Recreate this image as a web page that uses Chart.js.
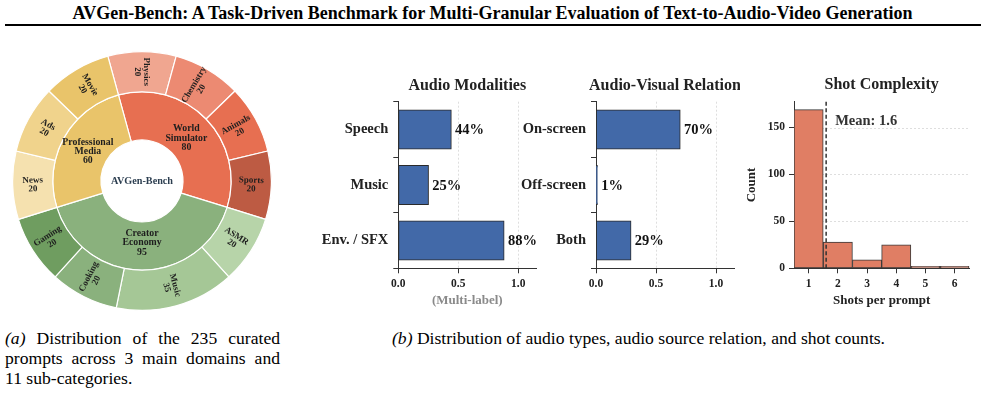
<!DOCTYPE html>
<html><head><meta charset="utf-8">
<script src="https://cdn.jsdelivr.net/npm/chart.js@4"></script>
<style>
html,body{margin:0;padding:0;background:#fff;}
body{width:985px;height:405px;position:relative;overflow:hidden;font-family:"Liberation Serif","Times New Roman",serif;color:#000;}
canvas{position:absolute;}
#title{position:absolute;left:0;top:4px;width:985px;text-align:center;white-space:nowrap;}
#titleText{display:inline-block;font-weight:bold;font-size:16.5px;line-height:18px;}
#rule{position:absolute;left:5px;top:24px;width:976px;height:2px;background:#000;}
.cap{position:absolute;font-size:17.6px;line-height:20px;white-space:nowrap;}
.j{text-align:justify;text-align-last:justify;}
</style></head><body>
<div id="title"><span id="titleText">AVGen-Bench: A Task-Driven Benchmark for Multi-Granular Evaluation of Text-to-Audio-Video Generation</span></div>
<div id="rule"></div>
<canvas id="c1" width="260" height="260" style="left:12px;top:51px"></canvas>
<canvas id="c2" width="230" height="250" style="left:310px;top:60px"></canvas>
<canvas id="c3" width="230" height="250" style="left:510px;top:60px"></canvas>
<canvas id="c4" width="245" height="250" style="left:740px;top:60px"></canvas>
<div class="cap" style="left:5px;top:328px;width:275px;white-space:normal">
  <div class="j"><i>(a)</i> Distribution of the 235 curated</div>
  <div class="j">prompts across 3 main domains and</div>
  <div>11 sub-categories.</div>
</div>
<div class="cap" style="left:392px;top:328px"><span id="capB"><i>(b)</i> Distribution of audio types, audio source relation, and shot counts.</span></div>
<script>
// ---------- DATA ----------
const centerLabel = 'AVGen-Bench';
const domainLabels = ['World Simulator', 'Creator Economy', 'Professional Media'];
const domainCounts = [80, 95, 60];
const subLabels = ['Physics', 'Chemistry', 'Animals', 'Sports', 'ASMR', 'Music', 'Cooking', 'Gaming', 'News', 'Ads', 'Movie'];
const subCounts = [20, 20, 20, 20, 20, 35, 20, 20, 20, 20, 20];

const modalityLabels = ['Speech', 'Music', 'Env. / SFX'];
const modalityShares = [0.44, 0.25, 0.88];
const relationLabels = ['On-screen', 'Off-screen', 'Both'];
const relationShares = [0.70, 0.01, 0.29];
const shareTicks = [0, 0.5, 1.0];
const shareTickLabels = ['0.0', '0.5', '1.0'];

const shotValues = [1, 2, 3, 4, 5, 6];
const shotFrequency = [169, 28, 9, 25, 2, 2];
const shotMean = 1.6;
const countTicks = [0, 50, 100, 150];

// ---------- STYLE ----------
const SERIF = '"Liberation Serif", "Times New Roman", serif';
Chart.defaults.font.family = SERIF;
Chart.defaults.color = '#222';
const domainColors = ['#E76F51', '#8AB17D', '#E9C46A'];
const subColors = ['#F0A690', '#EC8A72', '#E76F51', '#BD5B43',
                   '#B7D4A9', '#A5C796', '#8AB17D', '#6F9D60',
                   '#F5E1AF', '#F0D38C', '#E9C46A'];

// fit title / caption widths
(function(){
  const tt = document.getElementById('titleText');
  const w = tt.getBoundingClientRect().width;
  tt.style.fontSize = (16.5 * 840 / w) + 'px';
})();

// ---------- SUNBURST ----------
const sunLabels = {
  id: 'sunLabels',
  afterDatasetsDraw(chart) {
    const ctx = chart.ctx;
    ctx.save();
    ctx.textAlign = 'center'; ctx.textBaseline = 'middle';
    chart.getDatasetMeta(0).data.forEach((arc, i) => {
      const p = arc.getProps(['x', 'y', 'startAngle', 'endAngle', 'innerRadius', 'outerRadius'], true);
      const mid = (p.startAngle + p.endAngle) / 2;
      const r = (p.innerRadius + p.outerRadius) / 2;
      let rot = Math.atan2(Math.sin(mid), Math.cos(mid));
      if (Math.abs(rot) > Math.PI / 2 + 1e-6) rot += Math.PI;
      ctx.save();
      ctx.translate(p.x + r * Math.cos(mid), p.y + r * Math.sin(mid));
      ctx.rotate(rot);
      ctx.fillStyle = '#1e1e1e';
      ctx.font = 'bold 9px ' + SERIF;
      ctx.fillText(subLabels[i], 0, -4.3);
      ctx.fillText(String(subCounts[i]), 0, 4.3);
      ctx.restore();
    });
    chart.getDatasetMeta(1).data.forEach((arc, i) => {
      const p = arc.getProps(['x', 'y', 'startAngle', 'endAngle', 'innerRadius', 'outerRadius'], true);
      const mid = (p.startAngle + p.endAngle) / 2;
      const r = p.innerRadius + (p.outerRadius - p.innerRadius) * 0.43;
      const lines = domainLabels[i].split(' ').concat([String(domainCounts[i])]);
      const cx = p.x + r * Math.cos(mid), cy = p.y + r * Math.sin(mid);
      ctx.fillStyle = '#1e1e1e';
      ctx.font = 'bold 9.8px ' + SERIF;
      const lh = 9.3;
      lines.forEach((ln, k) => ctx.fillText(ln, cx, cy + (k - (lines.length - 1) / 2) * lh));
    });
    const m = chart.getDatasetMeta(1).data[0];
    ctx.fillStyle = '#2C3E50';
    ctx.font = 'bold 10.2px ' + SERIF;
    ctx.fillText(centerLabel, m.x, m.y);
    ctx.restore();
  }
};

new Chart(document.getElementById('c1'), {
  type: 'doughnut',
  data: {
    labels: subLabels,
    datasets: [
      { data: subCounts, backgroundColor: subColors, borderColor: '#fff', borderWidth: 1.2, weight: 40 },
      { data: domainCounts, backgroundColor: domainColors, borderColor: '#fff', borderWidth: 1.2, weight: 48 }
    ]
  },
  options: {
    responsive: false, animation: false,
    cutout: 41,
    rotation: -15.32,
    layout: { padding: 0 },
    plugins: { legend: { display: false }, tooltip: { enabled: false } }
  },
  plugins: [sunLabels]
});

// ---------- COMMON PLUGINS ----------
const panelTitle = {
  id: 'panelTitle',
  afterDraw(chart, args, opts) {
    const { ctx, chartArea: a } = chart;
    ctx.save();
    ctx.font = 'bold 16px ' + SERIF;
    ctx.fillStyle = '#222';
    ctx.textAlign = 'center'; ctx.textBaseline = 'middle';
    ctx.fillText(opts.text, (a.left + a.right) / 2, a.top - opts.offset);
    ctx.restore();
  }
};
const dottedGrid = {
  id: 'dottedGrid',
  beforeDatasetsDraw(chart, args, opts) {
    const s = chart.scales[opts.axis], a = chart.chartArea, ctx = chart.ctx;
    ctx.save();
    ctx.strokeStyle = '#d6d6d6'; ctx.lineWidth = 0.8; ctx.setLineDash([2, 2]);
    s.ticks.forEach(t => {
      if (t.value === 0) return;
      const p = Math.round(s.getPixelForValue(t.value)) + 0.5;
      ctx.beginPath();
      if (opts.axis === 'x') { ctx.moveTo(p, a.top); ctx.lineTo(p, a.bottom); }
      else { ctx.moveTo(a.left, p); ctx.lineTo(a.right, p); }
      ctx.stroke();
    });
    ctx.restore();
  }
};
const barValues = {
  id: 'barValues',
  afterDatasetsDraw(chart) {
    const ctx = chart.ctx, meta = chart.getDatasetMeta(0), vals = chart.data.datasets[0].data;
    ctx.save();
    ctx.font = 'bold 14.5px ' + SERIF;
    ctx.fillStyle = '#111';
    ctx.textAlign = 'left'; ctx.textBaseline = 'middle';
    meta.data.forEach((bar, i) => ctx.fillText(Math.round(vals[i] * 100) + '%', bar.x + 4, bar.y + 1));
    ctx.restore();
  }
};

function shareChart(id, labels, values, titleText, axisTitle, yWidth, padRight) {
  return new Chart(document.getElementById(id), {
    type: 'bar',
    data: { labels: labels, datasets: [{ data: values, backgroundColor: '#4269A8', borderColor: '#2a2a2a', borderWidth: 1, borderSkipped: false, inflateAmount: 0.6, barPercentage: 0.7, categoryPercentage: 1 }] },
    options: {
      indexAxis: 'y', responsive: false, animation: false,
      layout: { padding: { top: 41.7, right: padRight, left: 0, bottom: 0 } },
      plugins: { legend: { display: false }, tooltip: { enabled: false },
                 panelTitle: { text: titleText, offset: 15.7 }, dottedGrid: { axis: 'x' } },
      scales: {
        x: {
          type: 'linear', min: 0, max: 1.15,
          afterBuildTicks: s => { s.ticks = shareTicks.map(v => ({ value: v })); },
          ticks: { callback: v => shareTickLabels[shareTicks.indexOf(v)], font: { size: 11.5, weight: 'bold' }, color: '#222', padding: 4, maxRotation: 0 },
          grid: { drawOnChartArea: false, drawTicks: true, tickLength: 5, tickColor: '#333', tickWidth: 1 },
          border: { color: '#333', width: 1 },
          title: { display: !!axisTitle, text: axisTitle || '', color: '#8a8a8a', font: { size: 13, weight: 'bold' }, padding: { top: 0, bottom: 2 } },
          afterFit: s => { s.height = 41.7; }
        },
        y: {
          ticks: { font: { size: 14.5, weight: 'bold' }, color: '#222', padding: 5 },
          grid: { drawOnChartArea: false, drawTicks: true, tickLength: 5, tickColor: '#333', tickWidth: 1 },
          border: { color: '#333', width: 1 },
          afterFit: s => { s.width = yWidth; }
        }
      }
    },
    plugins: [panelTitle, dottedGrid, barValues]
  });
}
shareChart('c2', modalityLabels, modalityShares, 'Audio Modalities', '(Multi-label)', 88.3, 3.7);
shareChart('c3', relationLabels, relationShares, 'Audio-Visual Relation', null, 86, 6);

// ---------- HISTOGRAM ----------
const meanLine = {
  id: 'meanLine',
  afterDatasetsDraw(chart) {
    const { ctx, chartArea: a } = chart;
    const x = chart.scales.x.getPixelForValue(shotMean);
    ctx.save();
    ctx.strokeStyle = '#333'; ctx.lineWidth = 1.5; ctx.setLineDash([4, 2.5]);
    ctx.beginPath(); ctx.moveTo(x, a.top); ctx.lineTo(x, a.bottom); ctx.stroke();
    ctx.setLineDash([]);
    ctx.font = 'bold 14.5px ' + SERIF;
    ctx.fillStyle = '#333';
    ctx.textAlign = 'left'; ctx.textBaseline = 'middle';
    ctx.fillText('Mean: ' + shotMean.toFixed(1), x + 9, a.top + 20);
    ctx.restore();
  }
};
new Chart(document.getElementById('c4'), {
  type: 'bar',
  data: { datasets: [{ data: shotValues.map((v, i) => ({ x: v, y: shotFrequency[i] })),
    backgroundColor: 'rgb(224,126,100)', borderColor: '#3a3a3a', borderWidth: 1, borderSkipped: false,
    barPercentage: 1, categoryPercentage: 1 }] },
  options: {
    responsive: false, animation: false,
    layout: { padding: { top: 41.7, right: 15.7, left: 0, bottom: 0 } },
    plugins: { legend: { display: false }, tooltip: { enabled: false },
               panelTitle: { text: 'Shot Complexity', offset: 16.5 }, dottedGrid: { axis: 'y' } },
    scales: {
      x: {
        type: 'linear', min: 0.5, max: 6.5, offset: false,
        afterBuildTicks: s => { s.ticks = shotValues.map(v => ({ value: v })); },
        ticks: { font: { size: 11.5, weight: 'bold' }, color: '#222', padding: 4, maxRotation: 0 },
        grid: { offset: false, drawOnChartArea: false, drawTicks: true, tickLength: 5, tickColor: '#333', tickWidth: 1 },
        border: { color: '#333', width: 1 },
        title: { display: true, text: 'Shots per prompt', color: '#222', font: { size: 13, weight: 'bold' }, padding: { top: 0, bottom: 2 } },
        afterFit: s => { s.height = 41.7; }
      },
      y: {
        min: 0, max: 177.5,
        afterBuildTicks: s => { s.ticks = countTicks.map(v => ({ value: v })); },
        ticks: { font: { size: 11.5, weight: 'bold' }, color: '#222', padding: 4 },
        grid: { drawOnChartArea: false, drawTicks: true, tickLength: 5, tickColor: '#333', tickWidth: 1 },
        border: { color: '#333', width: 1 },
        title: { display: true, text: 'Count', color: '#222', font: { size: 13, weight: 'bold' }, padding: { top: 4, bottom: 0 } },
        afterFit: s => { s.width = 54; }
      }
    }
  },
  plugins: [panelTitle, dottedGrid, meanLine]
});
</script>
</body></html>
